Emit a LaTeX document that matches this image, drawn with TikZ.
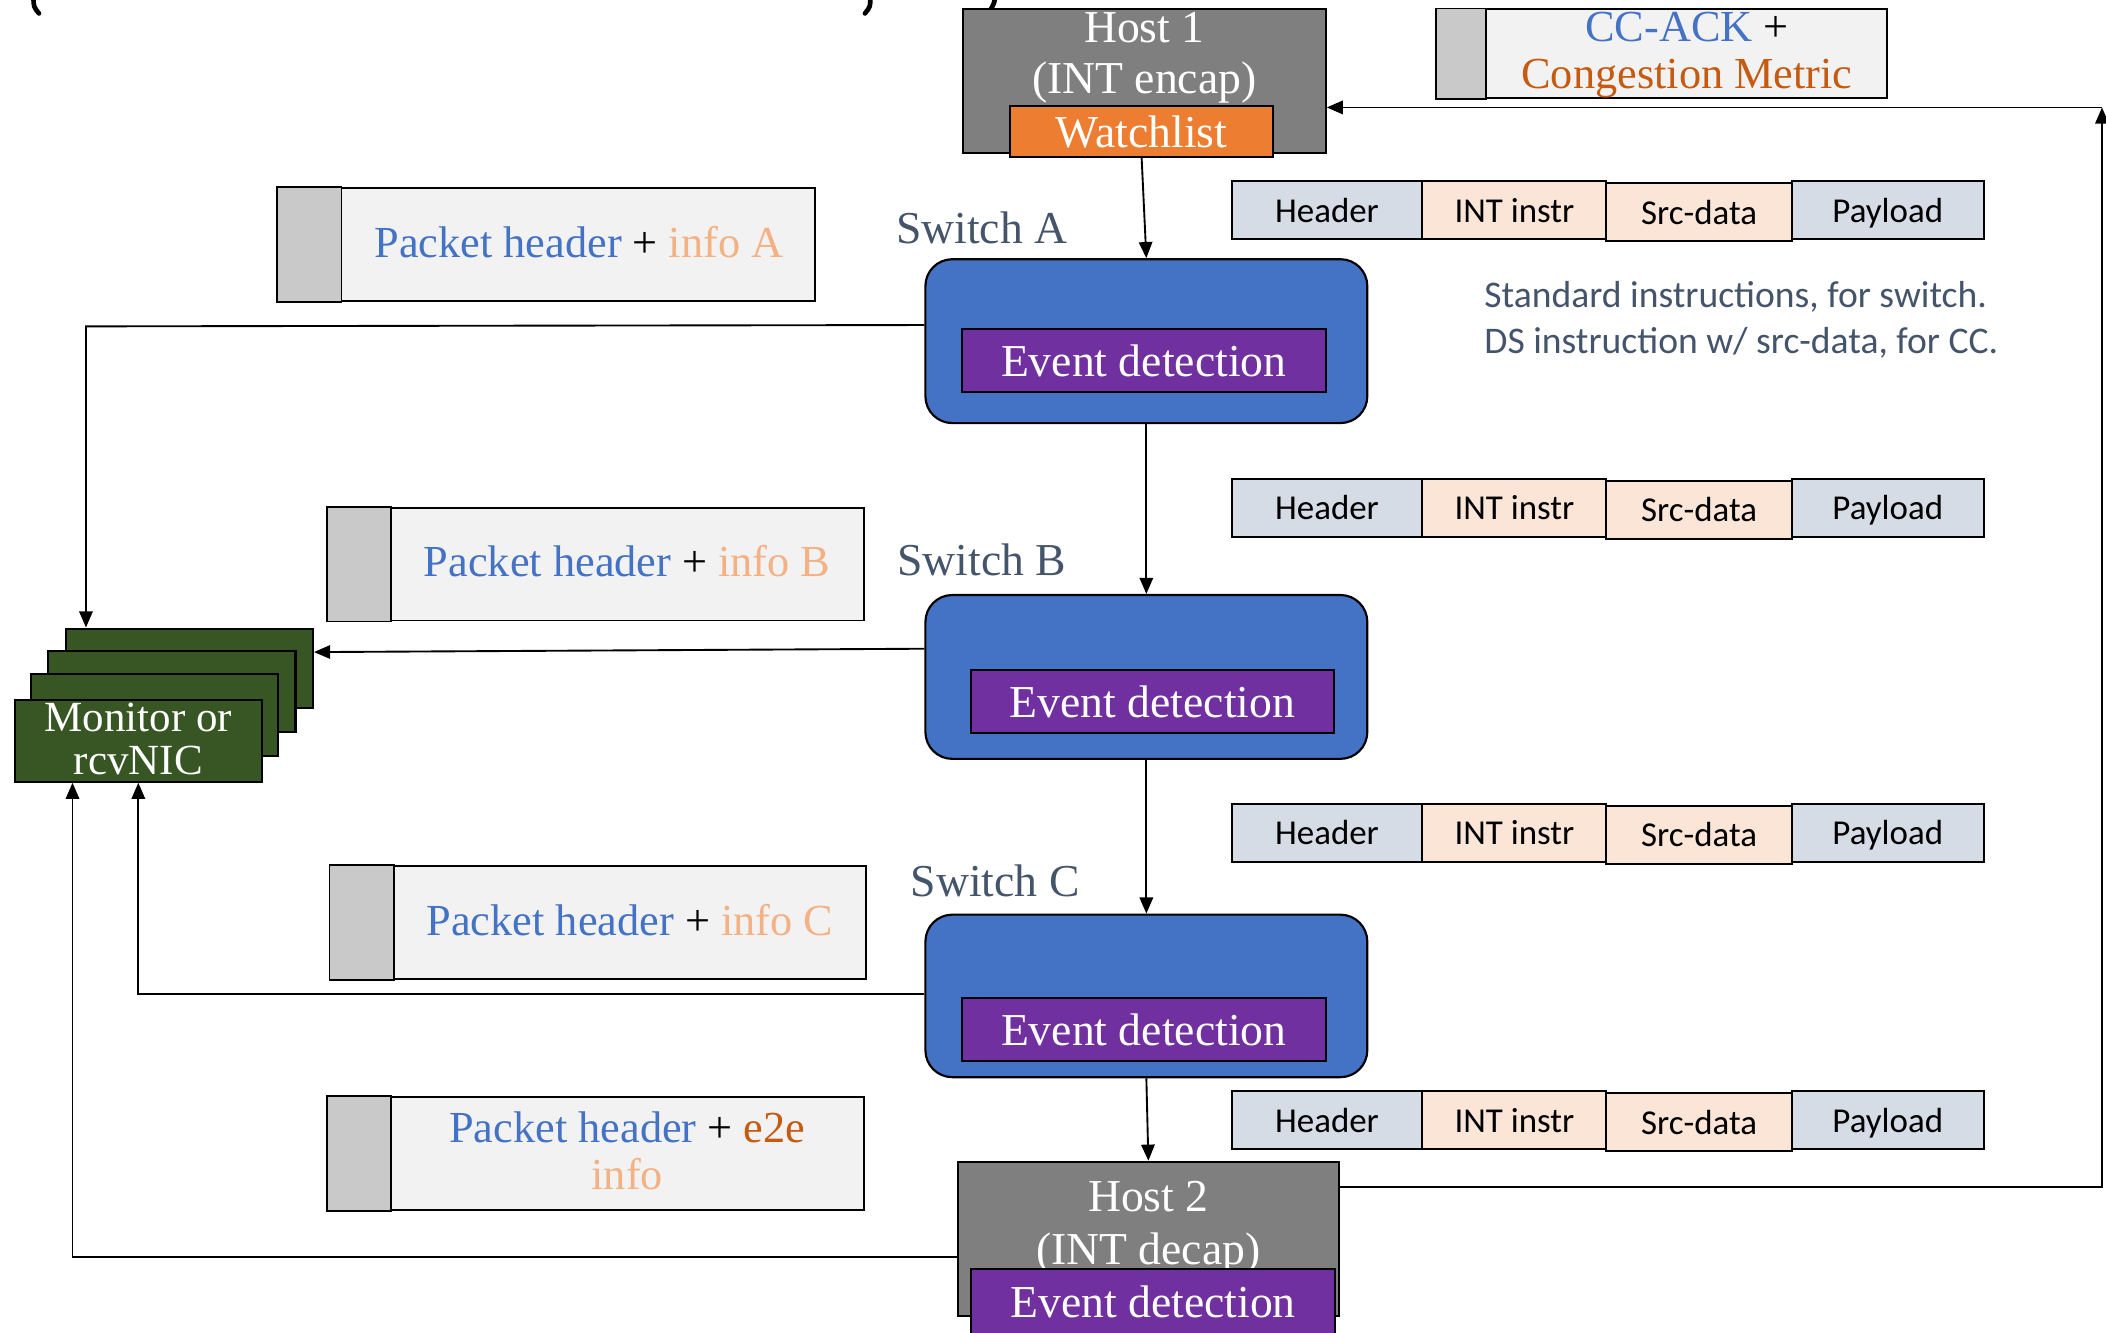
\documentclass[tikz,border=0pt]{standalone}
\usepackage{fontspec}
\setmainfont{Liberation Serif}
\newfontfamily\calib{Carlito}
\usetikzlibrary{arrows.meta,calc}

\definecolor{hostgray}{HTML}{7F7F7F}
\definecolor{wlorange}{HTML}{ED7D31}
\definecolor{swblue}{HTML}{4472C4}
\definecolor{evpurple}{HTML}{7030A0}
\definecolor{mongreen}{HTML}{375623}
\definecolor{stripgray}{HTML}{C9C9C9}
\definecolor{pktfill}{HTML}{F2F2F2}
\definecolor{hdrblue}{HTML}{D6DCE5}
\definecolor{peach}{HTML}{FBE5D6}
\definecolor{txtblue}{HTML}{4472C4}
\definecolor{lightorange}{HTML}{F4B183}
\definecolor{darkorange}{HTML}{C55A11}
\definecolor{slate}{HTML}{44546A}

\newcommand\serif[2]{\fontsize{#1}{#2}\selectfont}

% one row of packet fields: name prefix, centre y
\newcommand\pktrow[2]{%
  \node[cell, fill=hdrblue, minimum width=142pt] (#1h) at (988,#2) {Header};
  \node[cell, fill=peach, minimum width=137pt] (#1i) at (1127.5,#2) {INT instr};
  \node[cell, fill=peach, minimum width=138pt] (#1s) at (1265,#2+1.5) {Src-data};
  \node[cell, fill=hdrblue, minimum width=143pt] (#1p) at (1405.5,#2) {Payload};
}

\begin{document}
\begin{tikzpicture}[x=1pt,y=-1pt,
  box/.style={draw=black, line width=1.6pt, inner sep=0pt},
  hostbox/.style={box, fill=hostgray},
  evbox/.style={box, fill=evpurple, text=white, font=\serif{34}{34}},
  swbox/.style={box, fill=swblue, rounded corners=20pt},
  monbox/.style={box, fill=mongreen, minimum width=184pt, minimum height=60pt},
  pktbox/.style={draw=black, line width=1.4pt, fill=pktfill, inner sep=0pt},
  stripbox/.style={draw=black, line width=1.4pt, fill=stripgray},
  cell/.style={draw=black, line width=1.4pt, inner sep=0pt, minimum height=43pt,
    text height=20pt, text depth=2pt,
    font=\calib\fontsize{26}{30}\selectfont},
  whitetext/.style={text=white, align=center, inner sep=0pt},
  swlabel/.style={text=slate, font=\serif{34}{34}, inner sep=0pt},
  conn/.style={line width=1.4pt},
  arr/.style={conn, -{Triangle[length=12pt,width=10pt]}},
  titlestroke/.style={line width=3.5pt, line cap=round}]

\useasboundingbox (0,0) rectangle (1568,992);

% bottoms of the title glyphs along the top edge
\draw[titlestroke] (25,-2) .. controls (25,5) .. (29,10);
\draw[titlestroke] (648,-2) .. controls (648,5) .. (644,10);
\draw[titlestroke] (741,-2) .. controls (740,3) .. (737,8);

% ---------------- Host 1 ----------------
\node[hostbox, minimum width=270pt, minimum height=107pt] (h1) at (852,60.5) {};
\node[whitetext, font=\serif{34}{38}] (h1t) at (852,43)
  {Host 1\\(INT encap)};
\node[box, fill=wlorange, minimum width=196pt, minimum height=38pt, text=white,
  font=\serif{34}{34}] (wl) at (850,98) {Watchlist};

% CC-ACK box
\node[pktbox, minimum width=335pt, minimum height=66pt] (ack) at (1237.5,40) {};
\draw[stripbox] (ack.north west) rectangle ([xshift=37pt]ack.south west);
\node[align=center, inner sep=0pt, font=\serif{33}{35}] (ackt) at (1256,41)
  {\textcolor{txtblue}{CC-ACK} +\\
   \textcolor{darkorange}{Congestion Metric}};

% ---------------- Switch A ----------------
\node[swlabel] (swAl) at (731,170) {Switch A};
\node[swbox, minimum width=329pt, minimum height=122pt] (swA) at (853.5,254) {};
\node[evbox, minimum width=271pt, minimum height=47pt] (evA) at (851.5,268.5) {Event detection};

\node[pktbox, minimum width=400pt, minimum height=84pt] (pa) at (407,182) {};
\draw[stripbox] (pa.north west) rectangle ([xshift=48pt]pa.south west);
\node[inner sep=0pt, font=\serif{33}{33}] (pat) at (431,180)
  {\textcolor{txtblue}{Packet header} + \textcolor{lightorange}{info A}};

\pktrow{ra}{156.5}

\node[text=slate, align=left, anchor=west, inner sep=0pt,
  font=\calib\fontsize{28}{34}\selectfont] (note) at (1105,238)
  {Standard instructions, for switch.\\DS instruction w/ src-data, for CC.};

% ---------------- Switch B ----------------
\pktrow{rb}{378}
\node[swlabel] (swBl) at (731,417) {Switch B};
\node[swbox, minimum width=329pt, minimum height=122pt] (swB) at (853.5,504) {};
\node[evbox, minimum width=270pt, minimum height=47pt] (evB) at (858,522.5) {Event detection};

\node[pktbox, minimum width=399pt, minimum height=84pt] (pb) at (443.5,420) {};
\draw[stripbox] (pb.north west) rectangle ([xshift=48pt]pb.south west);
\node[inner sep=0pt, font=\serif{33}{33}] (pbt) at (467,418)
  {\textcolor{txtblue}{Packet header} + \textcolor{lightorange}{info B}};

% ---------------- Switch C ----------------
\pktrow{rc}{620}
\node[swlabel] (swCl) at (741,656) {Switch C};
\node[swbox, minimum width=329pt, minimum height=121pt] (swC) at (853.5,741.5) {};
\node[evbox, minimum width=271pt, minimum height=47pt] (evC) at (851.5,766.5) {Event detection};

\node[pktbox, minimum width=399pt, minimum height=84pt] (pc) at (445.5,687) {};
\draw[stripbox] (pc.north west) rectangle ([xshift=48pt]pc.south west);
\node[inner sep=0pt, font=\serif{33}{33}] (pct) at (469,685)
  {\textcolor{txtblue}{Packet header} + \textcolor{lightorange}{info C}};

% ---------------- Host 2 ----------------
\pktrow{rd}{834}
\node[pktbox, minimum width=399pt, minimum height=84pt] (pd) at (443.5,859) {};
\draw[stripbox] (pd.north west) rectangle ([xshift=48pt]pd.south west);
\node[align=center, inner sep=0pt, font=\serif{33}{35}] (pdt) at (467,857)
  {\textcolor{txtblue}{Packet header} + \textcolor{darkorange}{e2e}\\
   \textcolor{lightorange}{info}};

\node[hostbox, minimum width=284pt, minimum height=115pt] (h2) at (855,922.5) {};
\node[whitetext, font=\serif{34}{39}] (h2t) at (855,914)
  {Host 2\\(INT decap)};
\node[evbox, minimum width=271pt, minimum height=49pt] (evH) at (858.5,969.5) {Event detection};

% ---------------- Monitor stack ----------------
\node[monbox, minimum height=59pt] (mon4) at (141,497.5) {};
\node[monbox] (mon3) at (128,515) {};
\node[monbox, minimum height=61pt] (mon2) at (115,532.5) {};
\node[monbox, minimum height=61pt] (mon1) at (103,551.5) {};
\node[whitetext, font=\serif{32}{32}] (mont) at (103,550)
  {Monitor or\\rcvNIC};

% ---------------- connectors ----------------
\coordinate (c1) at (64,243);
\coordinate (corner) at (1565,80);

\draw[arr] (wl.south) -- (swA.north);
\draw[arr] (swA.south) -- (swB.north);
\draw[arr] (swB.south) -- (swC.north);
\draw[arr] (swC.south) -- (h2.north);

\draw[arr] ([yshift=12pt]swA.west) -- (c1) -- (c1 |- mon4.north);
\draw[arr] ([yshift=21pt]swB.west) -- ([yshift=12pt]mon4.east);
\draw[arr] ([yshift=1.5pt]swC.west) -| (mon1.south);
\draw[arr] ([yshift=-13.5pt]h2.west) -| ([xshift=-49pt]mon1.south);

\draw[arr] ([yshift=38.5pt]h2.east) -| (corner);
\draw[arr] (corner) -- (h1.east |- corner);

\end{tikzpicture}
\end{document}
